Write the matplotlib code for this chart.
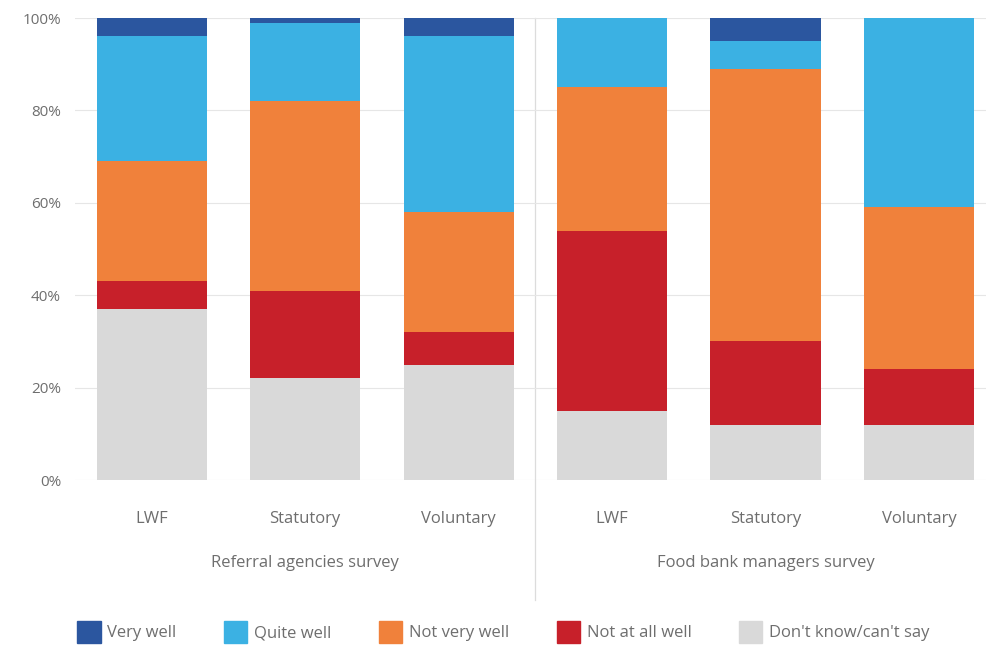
import matplotlib
matplotlib.use("Agg")
import matplotlib.pyplot as plt
import numpy as np
from matplotlib.patches import Patch

categories = ["LWF", "Statutory", "Voluntary", "LWF", "Statutory", "Voluntary"]
groups = ["Referral agencies survey", "Food bank managers survey"]
series = ["Don't know/can't say", "Not at all well", "Not very well", "Quite well", "Very well"]

dont_know = [37, 22, 25, 15, 12, 12]
not_at_all = [6, 19, 7, 39, 18, 12]
not_very = [26, 41, 26, 31, 59, 35]
quite_well = [27, 17, 38, 15, 6, 41]
very_well = [4, 1, 4, 0, 5, 0]

colors = ["#d9d9d9", "#c7202a", "#f0813b", "#3bb1e3", "#2b569f"]
text_col = "#6e6e6e"

plt.rcParams["font.family"] = ["Open Sans", "DejaVu Sans"]

fig = plt.figure(figsize=(9.87, 6.48), dpi=100)
ax = fig.add_axes([75 / 987, 1 - 480 / 648, 913 / 987, 462 / 648])

x = np.arange(len(categories))
bottom = np.zeros(len(categories))
for vals, col in zip([dont_know, not_at_all, not_very, quite_well, very_well], colors):
    ax.bar(x, vals, bottom=bottom, width=0.717, color=col, zorder=2)
    bottom += np.array(vals)

ax.set_ylim(0, 100)
ax.set_xlim(-0.5, 5.45)
ax.set_yticks(range(0, 101, 20))
ax.set_yticklabels([f"{v}%" for v in range(0, 101, 20)], color=text_col, fontsize=11)
ax.yaxis.grid(True, color="#e6e6e6", linewidth=0.8, zorder=0)
ax.set_xticks(x)
ax.set_xticklabels(categories, color=text_col, fontsize=12)
ax.tick_params(axis="both", length=0)
ax.tick_params(axis="x", pad=22)
ax.tick_params(axis="y", pad=10)
for s in ax.spines.values():
    s.set_visible(False)

# group labels and divider
ax.text(1, -18, groups[0], ha="center", va="center", color=text_col, fontsize=12,
        transform=ax.transData, clip_on=False)
ax.text(4, -18, groups[1], ha="center", va="center", color=text_col, fontsize=12,
        transform=ax.transData, clip_on=False)
ax.plot([2.5, 2.5], [100, -26], color="#dcdcdc", linewidth=0.9, clip_on=False, zorder=1)

handles = [Patch(color=c, label=l) for c, l in zip(colors[::-1], series[::-1])]
fig.legend(handles=handles, loc="center", bbox_to_anchor=(0.51, 1 - 632 / 648), ncol=5,
           frameon=False, fontsize=12, handlelength=1.4, handleheight=1.6,
           handletextpad=0.4, columnspacing=2.85, labelcolor=text_col)

fig.savefig("out.png", dpi=100)
